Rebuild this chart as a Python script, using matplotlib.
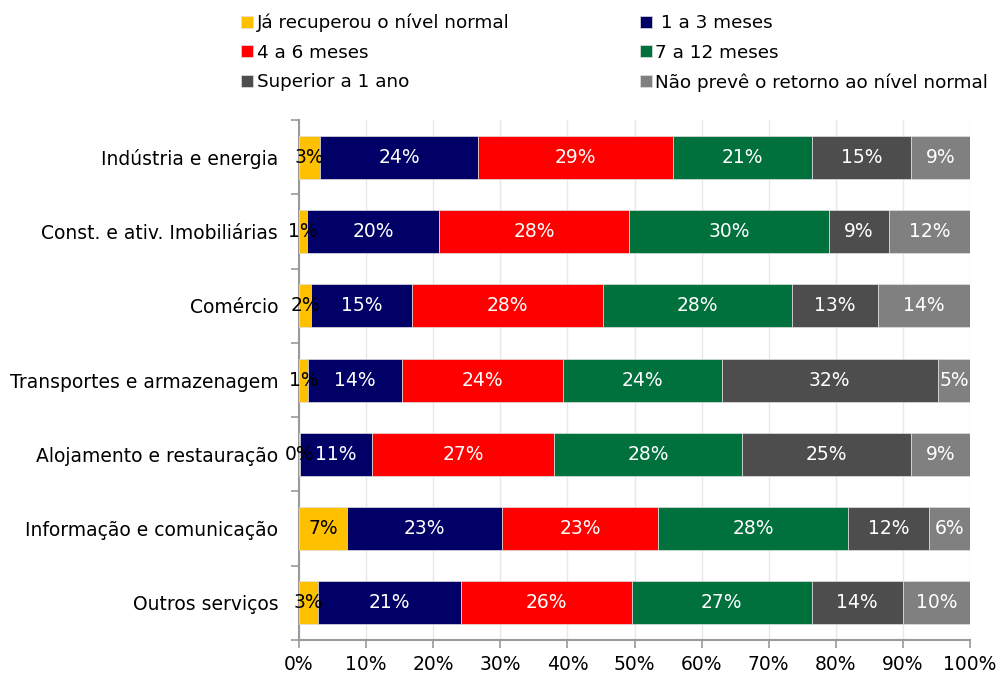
import matplotlib
matplotlib.use("Agg")
import matplotlib.pyplot as plt
import numpy as np

# Categories (top to bottom)
categories = [
    "Indústria e energia",
    "Const. e ativ. Imobiliárias",
    "Comércio",
    "Transportes e armazenagem",
    "Alojamento e restauração",
    "Informação e comunicação",
    "Outros serviços",
]

series_names = [
    "Já recuperou o nível normal",
    " 1 a 3 meses",
    "4 a 6 meses",
    "7 a 12 meses",
    "Superior a 1 ano",
    "Não prevê o retorno ao nível normal",
]

ja_recuperou = [3.1, 1.2, 1.8, 1.3, 0.2, 7.2, 2.8]
meses_1_3 = [23.6, 19.7, 15.1, 14.0, 10.7, 23.1, 21.3]
meses_4_6 = [29.1, 28.3, 28.4, 24.0, 27.1, 23.2, 25.5]
meses_7_12 = [20.6, 29.8, 28.2, 23.7, 28.0, 28.3, 26.8]
superior_1ano = [14.8, 8.9, 12.8, 32.2, 25.2, 12.1, 13.6]
nao_preve = [8.8, 12.1, 13.7, 4.8, 8.8, 6.1, 10.0]

colors = ["#FFC000", "#000066", "#FF0000", "#00703C", "#4D4D4D", "#808080"]
text_colors = ["black", "white", "white", "white", "white", "white"]

data = [ja_recuperou, meses_1_3, meses_4_6, meses_7_12, superior_1ano, nao_preve]

plt.rcParams["font.family"] = ["DejaVu Sans"]

fig = plt.figure(figsize=(10, 6.77), dpi=100)
ax = fig.add_axes([0.299, 0.0546, 0.671, 0.768])

y = np.arange(len(categories))
left = np.zeros(len(categories))
for name, vals, col, tcol in zip(series_names, data, colors, text_colors):
    vals = np.array(vals)
    ax.barh(y, vals, left=left, height=0.58, color=col, label=name,
            edgecolor="#e0e0e0", linewidth=0.5, zorder=3)
    for xi, yi, v in zip(left, y, vals):
        ax.text(xi + v / 2, yi, f"{round(v):.0f}%", ha="center", va="center",
                color=tcol, fontsize=13.5, zorder=4)
    left = left + vals

ax.set_xlim(0, 100)
ax.set_ylim(len(categories) - 0.5, -0.5)
ax.set_xticks(np.arange(0, 101, 10))
ax.set_xticklabels([f"{v}%" for v in range(0, 101, 10)], fontsize=13.5)
ax.set_yticks(y)
ax.set_yticklabels(categories, fontsize=13.5)
ax.tick_params(axis="y", length=0, pad=15)
ax.set_yticks(np.arange(-0.5, len(categories), 1), minor=True)
ax.tick_params(axis="y", which="minor", length=6, color="#9a9a9a", width=1.2)
ax.tick_params(axis="x", length=6, color="#9a9a9a", width=1.2, pad=5)

ax.grid(axis="x", color="#e8e8e8", linewidth=1, zorder=0)
ax.set_axisbelow(True)
for s in ["top", "right"]:
    ax.spines[s].set_visible(False)
for s in ["left", "bottom"]:
    ax.spines[s].set_color("#9a9a9a")
    ax.spines[s].set_linewidth(1.5)

# legend is filled row by row in the reference
handles, labels = ax.get_legend_handles_labels()
order = [0, 2, 4, 1, 3, 5]
fig.legend([handles[i] for i in order], [labels[i] for i in order], ncol=2,
           loc="upper left", bbox_to_anchor=(0.232, 0.993),
           frameon=False, fontsize=13.2, handlelength=0.65, handleheight=0.65,
           handletextpad=0.2, columnspacing=7.1, labelspacing=0.62,
           borderaxespad=0.2, borderpad=0.3)

fig.savefig("out.png", dpi=100, facecolor="white")
